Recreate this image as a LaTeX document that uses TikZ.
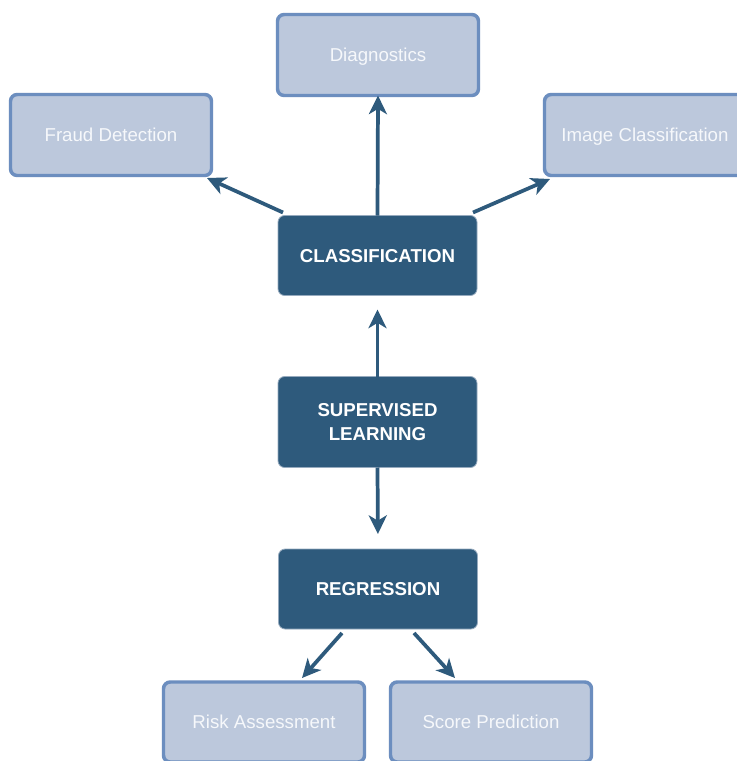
\documentclass[tikz,border=0pt]{standalone}
\usepackage{fontspec}
\setmainfont{Liberation Sans}
\usetikzlibrary{arrows.meta,calc}
\definecolor{darkfill}{RGB}{46,90,124}
\definecolor{darkedge}{RGB}{150,170,190}
\definecolor{lightfill}{RGB}{188,200,220}
\definecolor{lightedge}{RGB}{108,142,191}
\definecolor{lighttext}{RGB}{246,248,251}
\tikzset{
  leaf/.style={draw=lightedge, fill=lightfill, line width=2.6pt, rounded corners=5pt,
    minimum width=201*0.75pt, minimum height=81*0.75pt, inner sep=0pt, outer sep=0pt,
    text=lighttext, font=\fontsize{14}{18}\selectfont, align=center, text depth=0pt},
  hub/.style={draw=darkedge, fill=darkfill, line width=0.6pt, rounded corners=5pt,
    minimum width=199*0.75pt, minimum height=80*0.75pt, inner sep=0pt, outer sep=0pt,
    text=white, font=\fontsize{14}{18}\selectfont\bfseries, align=center, text depth=0pt},
  arr/.style={draw=darkfill, line width=2.8pt,
    -{Stealth[length=14pt,width=13.5pt,inset=4pt]}}
}
\begin{document}
\begin{tikzpicture}[x=0.75pt,y=-0.75pt]
\useasboundingbox (0,0) rectangle (737,761);
\clip (0,0) rectangle (737,761);
\fill[white] (0,0) rectangle (737,761);
% light nodes
\node[leaf] (diag) at (378,55) {Diagnostics};
\node[leaf] (fraud) at (111,135) {Fraud Detection};
\node[leaf] (image) at (645,135) {Image Classification};
\node[leaf, minimum height=80*0.75pt] (risk) at (264,722) {Risk Assessment};
\node[leaf, minimum height=80*0.75pt] (score) at (491,722) {Score Prediction};
% dark nodes
\node[hub] (cls) at (377.5,255.5) {CLASSIFICATION};
\node[hub, minimum height=91*0.75pt] (sup) at (377.5,422) {SUPERVISED\\LEARNING};
\node[hub] (reg) at (378,589) {REGRESSION};
% connectors
\draw[arr] (cls.north) -- (diag.south);
\draw[arr] ($(cls.north west)+(5,-3)$) -- ($(fraud.south east)+(-4.5,2.5)$);
\draw[arr] ($(cls.north east)+(-4,-3)$) -- ($(image.south west)+(5.5,3.5)$);
\draw[arr, shorten >=14*0.75pt] (sup.north) -- (cls.south);
\draw[arr, shorten >=15*0.75pt] (sup.south) -- (reg.north);
\draw[arr] ($(reg.south)+(-36,4)$) -- ($(risk.north)+(38,-4)$);
\draw[arr] ($(reg.south)+(36,4)$) -- ($(score.north)+(-36,-4)$);
\end{tikzpicture}
\end{document}
